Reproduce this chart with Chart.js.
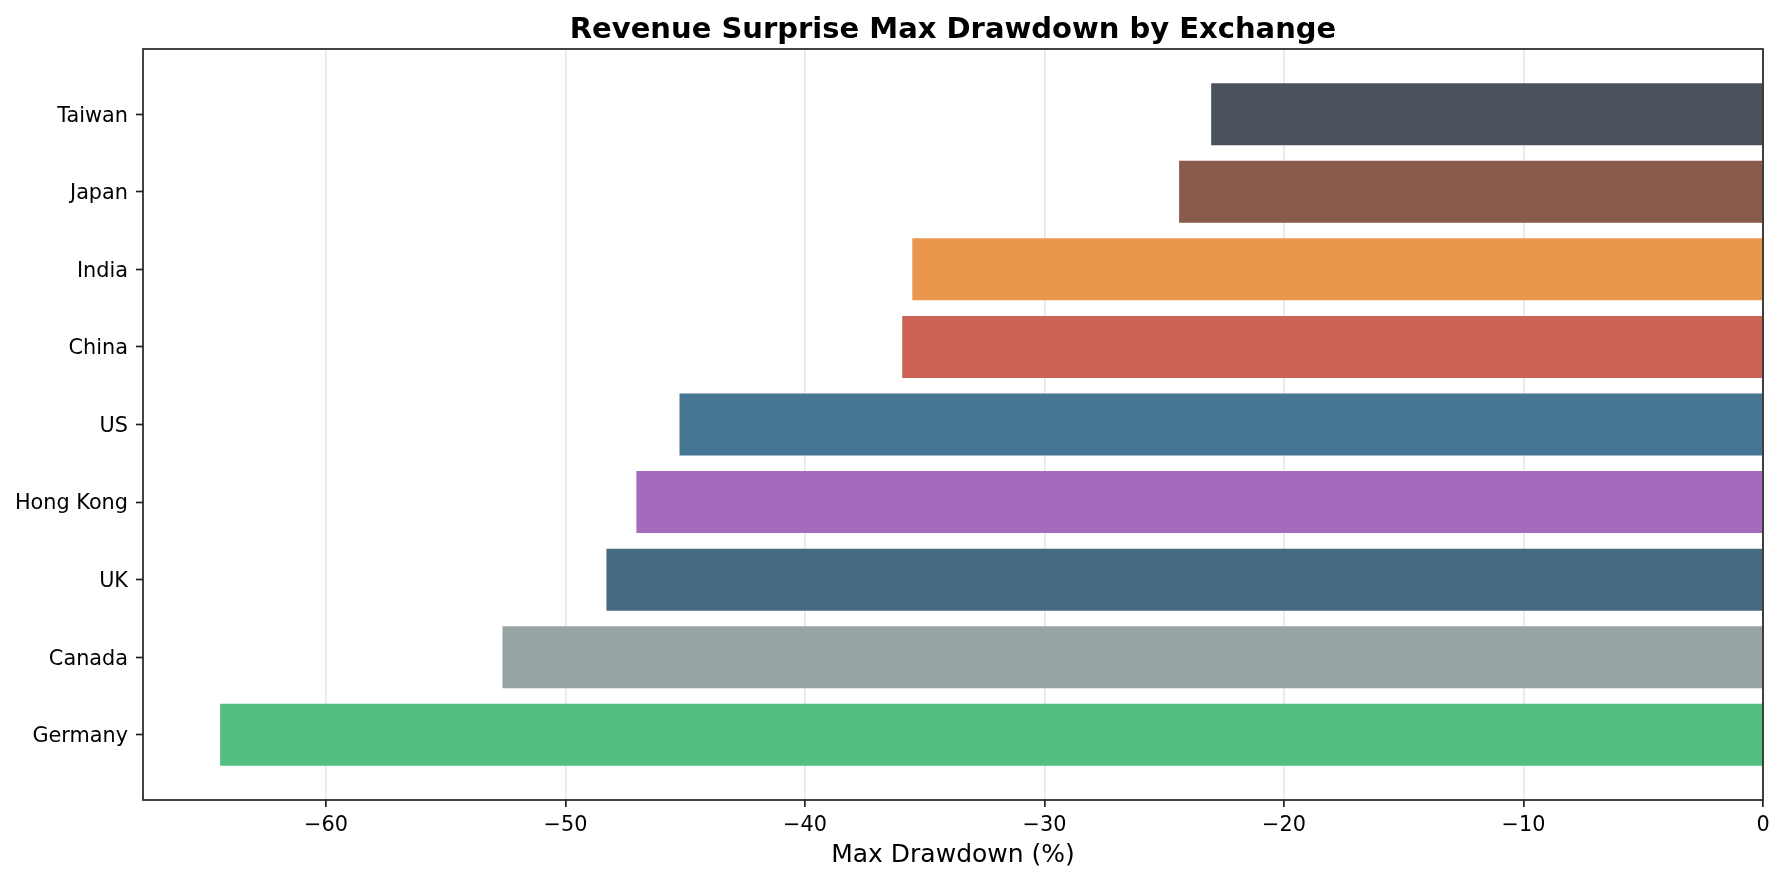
<!DOCTYPE html>
<html>
<head>
<meta charset="utf-8">
<script src="https://cdn.jsdelivr.net/npm/chart.js@4"></script>
<style>
  body { margin: 0; background: #fff; }
</style>
</head>
<body>
<canvas id="chart" width="1784" height="882"></canvas>
<script>
var exchanges = ['Germany', 'Canada', 'UK', 'Hong Kong', 'US', 'China', 'India', 'Japan', 'Taiwan'];
var drawdowns = [-64.42, -52.63, -48.29, -47.04, -45.24, -35.94, -35.52, -24.38, -23.04];
var barColors = ['#52be80', '#98a4a3', '#456a82', '#a46abc', '#477694', '#cb6255', '#ea974e', '#8a5a4a', '#4a525c'];
var xTicks = [-60, -50, -40, -30, -20, -10, 0];

var FONT = "'DejaVu Sans', sans-serif";

// box round the plot area, like the matplotlib spines
var frame = {
    id: 'frame',
    afterDraw: function (chart) {
        var a = chart.chartArea;
        var c = chart.ctx;
        c.save();
        c.strokeStyle = '#222';
        c.lineWidth = 1.7;
        c.strokeRect(a.left, a.top, a.right - a.left, a.bottom - a.top);
        c.restore();
    }
};

var data = {
    datasets: [{
        data: drawdowns.map(function (v, i) { return { x: v, y: i }; }),
        backgroundColor: barColors,
        borderWidth: 0,
        barPercentage: 0.8,
        categoryPercentage: 1.0
    }]
};

var options = {
    indexAxis: 'y',
    responsive: false,
    animation: false,
    layout: { padding: { left: 0, right: 21, top: 0, bottom: 0 } },
    scales: {
        x: {
            type: 'linear',
            min: -67.64,
            max: 0,
            z: 1,
            afterBuildTicks: function (scale) {
                scale.ticks = xTicks.map(function (v) { return { value: v }; });
            },
            afterFit: function (scale) { scale.height = 82; },
            grid: {
                color: 'rgba(176,176,176,0.3)',
                lineWidth: 1.7,
                tickColor: '#222',
                tickWidth: 1.7,
                tickLength: 7
            },
            border: { display: false },
            ticks: {
                color: '#000',
                padding: 6,
                font: { family: FONT, size: 20.8 },
                callback: function (value) {
                    return value < 0 ? '\u2212' + Math.abs(value) : String(value);
                }
            },
            title: {
                display: true,
                text: 'Max Drawdown (%)',
                color: '#000',
                font: { family: FONT, size: 25 },
                padding: { top: 0, bottom: 12 }
            }
        },
        y: {
            type: 'linear',
            min: -0.84,
            max: 8.84,
            offset: false,
            afterBuildTicks: function (scale) {
                scale.ticks = exchanges.map(function (n, i) { return { value: i }; });
            },
            afterFit: function (scale) { scale.width = 143; },
            grid: {
                offset: false,
                drawOnChartArea: false,
                tickColor: '#222',
                tickWidth: 1.7,
                tickLength: 7
            },
            border: { display: false },
            ticks: {
                color: '#000',
                padding: 8,
                labelOffset: 2,
                autoSkip: false,
                font: { family: FONT, size: 20.8 },
                callback: function (value) { return exchanges[value]; }
            }
        }
    },
    plugins: {
        legend: { display: false },
        tooltip: { enabled: false },
        title: {
            display: true,
            fullSize: false,
            text: 'Revenue Surprise Max Drawdown by Exchange',
            color: '#000',
            font: { family: FONT, size: 29, weight: 'bold', lineHeight: 1.2 },
            padding: { top: 13, bottom: 1.2 }
        }
    }
};

var ctx = document.getElementById('chart').getContext('2d');
var chart = new Chart(ctx, {
    type: 'bar',
    data: data,
    options: options,
    plugins: [frame]
});
</script>
</body>
</html>
